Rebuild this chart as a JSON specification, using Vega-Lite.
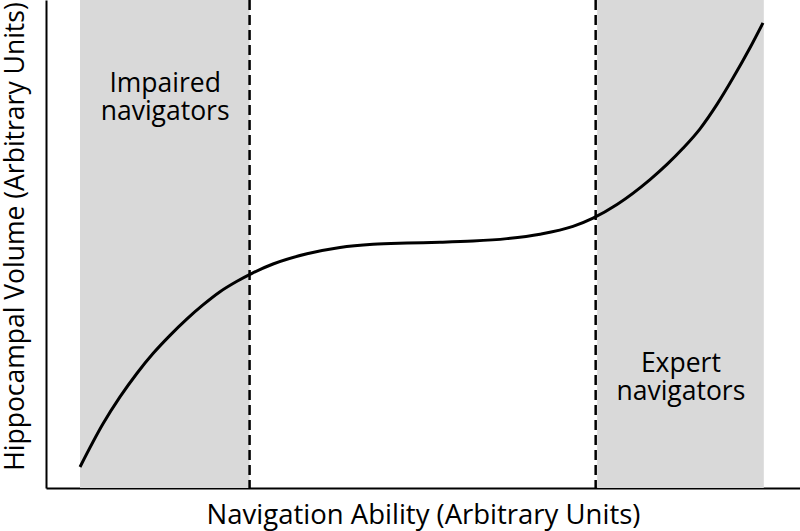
{
  "$schema": "https://vega.github.io/schema/vega-lite/v6.json",
  "width": 754,
  "height": 488,
  "autosize": {"type": "none"},
  "padding": {"left": 46, "top": 0, "right": 0, "bottom": 43},
  "background": "white",
  "config": {
    "view": {"stroke": null},
    "font": "Open Sans",
    "axis": {"grid": false, "labels": false, "ticks": false, "domainColor": "black", "domainWidth": 2, "titleFont": "Open Sans", "titleFontWeight": "normal", "titleColor": "black"}
  },
  "datasets": {
    "regions": [
      {"x0": 4.51, "x1": 27.0, "group": "Impaired"},
      {"x0": 73.1, "x1": 95.2, "group": "Expert"}
    ],
    "cutoffs": [
      {"x": 27.0},
      {"x": 72.9}
    ],
    "curve": [
      {"x": 4.51, "y": 4.30},
      {"x": 7.56, "y": 13.15},
      {"x": 9.81, "y": 18.66},
      {"x": 12.07, "y": 23.52},
      {"x": 14.19, "y": 27.55},
      {"x": 16.45, "y": 31.28},
      {"x": 18.70, "y": 34.66},
      {"x": 20.82, "y": 37.52},
      {"x": 23.08, "y": 40.23},
      {"x": 25.33, "y": 42.37},
      {"x": 27.32, "y": 44.0},
      {"x": 30.11, "y": 45.9},
      {"x": 34.62, "y": 48.0},
      {"x": 38.99, "y": 49.3},
      {"x": 43.37, "y": 49.95},
      {"x": 47.88, "y": 50.2},
      {"x": 52.25, "y": 50.35},
      {"x": 56.63, "y": 50.6},
      {"x": 61.14, "y": 51.1},
      {"x": 65.52, "y": 52.0},
      {"x": 69.89, "y": 53.6},
      {"x": 72.55, "y": 55.3},
      {"x": 75.73, "y": 58.1},
      {"x": 80.11, "y": 63.2},
      {"x": 82.36, "y": 66.3},
      {"x": 84.48, "y": 69.6},
      {"x": 86.74, "y": 73.6},
      {"x": 88.99, "y": 78.6},
      {"x": 91.11, "y": 84.0},
      {"x": 93.37, "y": 90.2},
      {"x": 95.09, "y": 95.3}
    ],
    "labels": [
      {"x": 15.8, "y": 81.1, "label": "Impaired\nnavigators"},
      {"x": 84.2, "y": 23.8, "label": "Expert\nnavigators"}
    ]
  },
  "layer": [
    {
      "data": {"name": "regions"},
      "mark": {"type": "rect", "color": "#d9d9d9"},
      "encoding": {
        "x": {"field": "x0", "type": "quantitative", "scale": {"domain": [0, 100], "nice": false, "zero": false}, "axis": {"title": "Navigation Ability (Arbitrary Units)", "titleFontSize": 27.5, "titlePadding": 13}},
        "x2": {"field": "x1"},
        "y": {"datum": 0, "type": "quantitative", "scale": {"domain": [0, 100], "nice": false}, "axis": {"title": "Hippocampal Volume (Arbitrary Units)", "titleFontSize": 26.5, "titlePadding": 17, "titleY": 236}},
        "y2": {"datum": 100}
      }
    },
    {
      "data": {"name": "cutoffs"},
      "mark": {"type": "rule", "color": "black", "strokeWidth": 2.5, "strokeDash": [10, 5]},
      "encoding": {
        "x": {"field": "x", "type": "quantitative"}
      }
    },
    {
      "data": {"name": "curve"},
      "mark": {"type": "line", "color": "black", "strokeWidth": 3, "interpolate": "monotone"},
      "encoding": {
        "x": {"field": "x", "type": "quantitative"},
        "y": {"field": "y", "type": "quantitative"}
      }
    },
    {
      "data": {"name": "labels"},
      "mark": {"type": "text", "fontSize": 26.5, "align": "center", "baseline": "alphabetic", "lineBreak": "\n", "lineHeight": 28, "color": "black", "font": "Open Sans"},
      "encoding": {
        "x": {"field": "x", "type": "quantitative"},
        "y": {"field": "y", "type": "quantitative"},
        "text": {"field": "label"}
      }
    }
  ]
}
